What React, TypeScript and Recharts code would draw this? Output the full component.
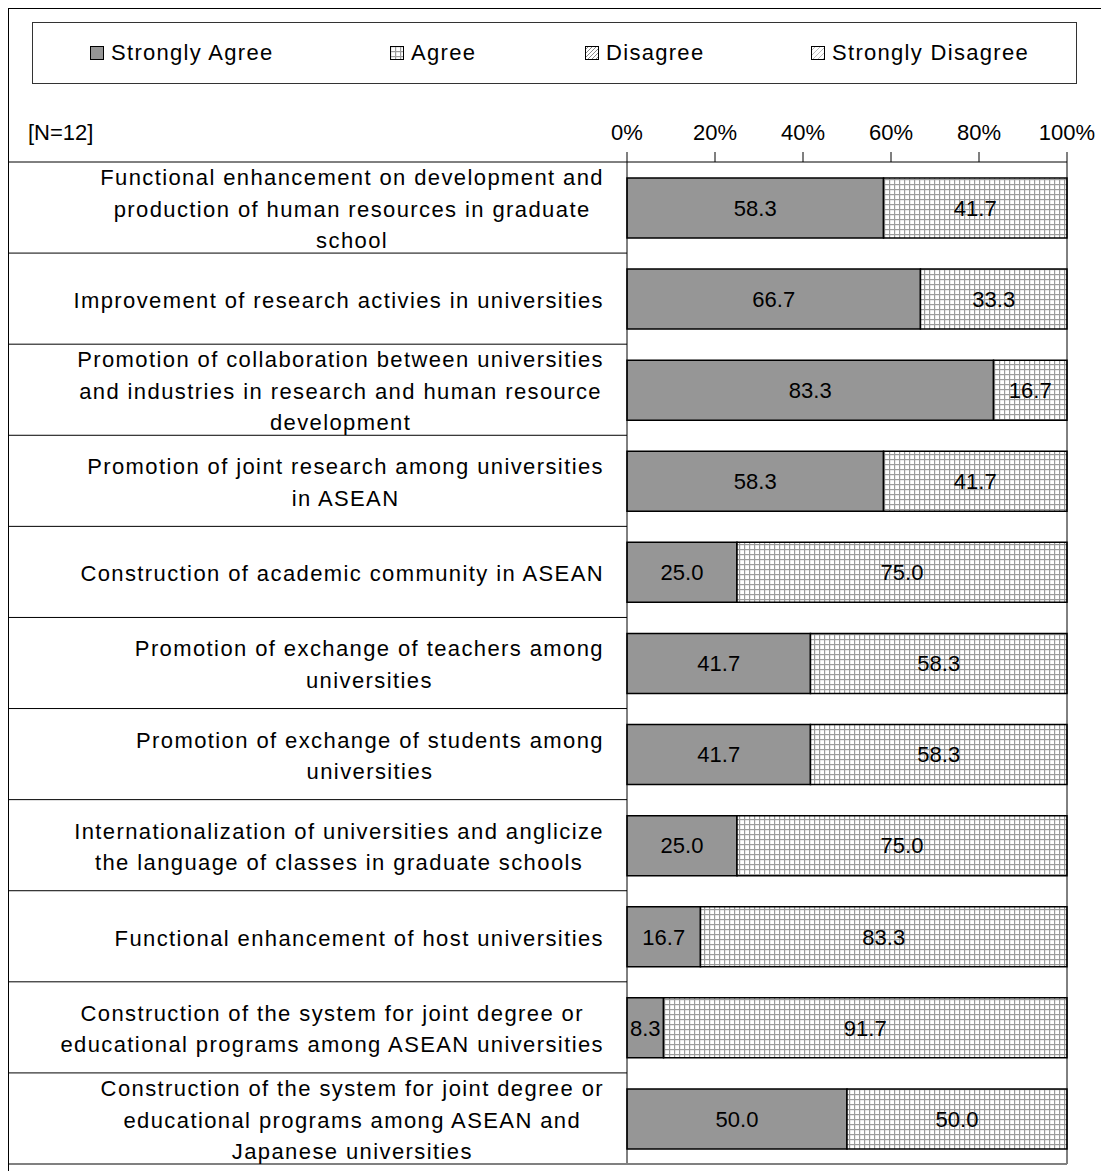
import { BarChart, Bar, XAxis, YAxis, LabelList, ReferenceLine } from "recharts";

const categories = [
  "Functional enhancement on development and\nproduction of human resources in graduate\nschool",
  "Improvement of research activies in universities",
  "Promotion of collaboration between universities\nand industries in research and human resource\ndevelopment",
  "Promotion of joint research among universities\nin ASEAN",
  "Construction of academic community in ASEAN",
  "Promotion of exchange of teachers among\nuniversities",
  "Promotion of exchange of students among\nuniversities",
  "Internationalization of universities and anglicize\nthe language of classes in graduate schools",
  "Functional enhancement of host universities",
  "Construction of the system for joint degree or\neducational programs among ASEAN universities",
  "Construction of the system for joint degree or\neducational programs among ASEAN and\nJapanese universities",
];

const stronglyAgree = [58.3, 66.7, 83.3, 58.3, 25.0, 41.7, 41.7, 25.0, 16.7, 8.3, 50.0];
const agree = [41.7, 33.3, 16.7, 41.7, 75.0, 58.3, 58.3, 75.0, 83.3, 91.7, 50.0];
const disagree = [0, 0, 0, 0, 0, 0, 0, 0, 0, 0, 0];
const stronglyDisagree = [0, 0, 0, 0, 0, 0, 0, 0, 0, 0, 0];

const seriesNames = ["Strongly Agree", "Agree", "Disagree", "Strongly Disagree"];
const percentTicks = [0, 20, 40, 60, 80, 100];
const sampleNote = "[N=12]";

const data = categories.map((name, i) => ({
  name,
  sa: stronglyAgree[i],
  ag: agree[i],
  di: disagree[i],
  sd: stronglyDisagree[i],
}));

const FONT = "'Liberation Sans', Arial, sans-serif";
const CHART_W = 1100;
const CHART_H = 1162;
const PLOT_LEFT = 618;
const PLOT_RIGHT = 1058;
const PLOT_TOP = 153;
const PLOT_BOTTOM = 1155;
const ROW_H = (PLOT_BOTTOM - PLOT_TOP) / categories.length;

const fills = ["#969696", "url(#pat-agree)", "url(#pat-dis)", "url(#pat-sdis)"];

function RowLabel(props: any) {
  const { y, payload, index } = props;
  const top = y - ROW_H / 2;
  return (
    <g>
      <line x1={0} x2={PLOT_LEFT} y1={top} y2={top} stroke="#000" />
      {index === categories.length - 1 && (
        <line x1={0} x2={PLOT_RIGHT} y1={top + ROW_H} y2={top + ROW_H} stroke="#808080" strokeWidth={2} />
      )}
      <foreignObject x={0} y={top} width={PLOT_LEFT} height={ROW_H} style={{ overflow: "visible" }}>
        <div
          style={{
            width: "100%",
            height: "100%",
            display: "flex",
            justifyContent: "flex-end",
            alignItems: "center",
            paddingRight: 23,
            paddingTop: 4,
            boxSizing: "border-box",
          }}
        >
          <div
            style={{
              textAlign: "center",
              whiteSpace: "pre-line",
              fontFamily: FONT,
              fontSize: 22,
              lineHeight: "31.5px",
              letterSpacing: 1.4,
              color: "#000",
            }}
          >
            {payload.value}
          </div>
        </div>
      </foreignObject>
    </g>
  );
}

function LegendIcon({ i }: { i: number }) {
  return (
    <svg width={14} height={14} style={{ marginRight: 7 }}>
      <rect x={0.5} y={0.5} width={13} height={13} fill={fills[i]} stroke="#000" />
    </svg>
  );
}

const legendLeft = [57, 357, 552, 778];

export default function App() {
  return (
    <div
      style={{
        position: "relative",
        width: 1101,
        height: 1163,
        borderTop: "1px solid #000",
        borderLeft: "1px solid #000",
        boxSizing: "border-box",
        fontFamily: FONT,
      }}
    >
      <svg width={0} height={0} style={{ position: "absolute" }}>
        <defs>
          <pattern id="pat-agree" width={5} height={5} patternUnits="userSpaceOnUse">
            <rect width={5} height={5} fill="#fff" />
            <rect width={5} height={1.2} fill="#9c9c9c" />
            <rect width={1.2} height={5} fill="#9c9c9c" />
          </pattern>
          <pattern id="pat-dis" width={4} height={4} patternUnits="userSpaceOnUse">
            <rect width={4} height={4} fill="#fff" />
            <path d="M0,4 L4,0 M-1,1 L1,-1 M3,5 L5,3" stroke="#888" strokeWidth={1} />
          </pattern>
          <pattern id="pat-sdis" width={5} height={5} patternUnits="userSpaceOnUse">
            <rect width={5} height={5} fill="#fff" />
            <path d="M0,5 L5,0 M-1,1 L1,-1 M4,6 L6,4" stroke="#bbb" strokeWidth={1} />
          </pattern>
        </defs>
      </svg>

      <div
        style={{
          position: "absolute",
          left: 23,
          top: 13,
          width: 1045,
          height: 62,
          border: "1px solid #333",
          boxSizing: "border-box",
        }}
      >
        {seriesNames.map((s, i) => (
          <div
            key={s}
            style={{
              position: "absolute",
              left: legendLeft[i],
              top: 0,
              height: 60,
              display: "flex",
              alignItems: "center",
              fontSize: 22,
              letterSpacing: 1.3,
            }}
          >
            <LegendIcon i={i} />
            {s}
          </div>
        ))}
      </div>

      <div style={{ position: "absolute", left: 19, top: 112, fontSize: 22, lineHeight: "24px" }}>{sampleNote}</div>

      <BarChart
        width={CHART_W}
        height={CHART_H}
        data={data}
        layout="vertical"
        margin={{ top: PLOT_TOP - 30, right: CHART_W - PLOT_RIGHT, bottom: CHART_H - PLOT_BOTTOM, left: 0 }}
      >
        <XAxis
          type="number"
          orientation="top"
          domain={[0, 100]}
          ticks={percentTicks}
          tickFormatter={(v) => `${v}%`}
          height={30}
          tickSize={10}
          tickMargin={12}
          axisLine={{ stroke: "#000" }}
          tickLine={{ stroke: "#000" }}
          tick={{ fill: "#000", fontSize: 22, fontFamily: FONT }}
          interval={0}
        />
        <YAxis
          type="category"
          dataKey="name"
          width={PLOT_LEFT}
          tickLine={false}
          axisLine={{ stroke: "#000" }}
          tick={<RowLabel />}
          interval={0}
        />
        <ReferenceLine x={100} stroke="#000" />
        <Bar dataKey="sa" name={seriesNames[0]} stackId="a" barSize={60} fill={fills[0]} stroke="#000" strokeWidth={1.5} isAnimationActive={false}>
          <LabelList dataKey="sa" position="center" formatter={(v: any) => Number(v).toFixed(1)} fill="#000" fontSize={22} fontFamily={FONT} />
        </Bar>
        <Bar dataKey="ag" name={seriesNames[1]} stackId="a" barSize={60} fill={fills[1]} stroke="#000" strokeWidth={1.5} isAnimationActive={false}>
          <LabelList dataKey="ag" position="center" formatter={(v: any) => Number(v).toFixed(1)} fill="#000" fontSize={22} fontFamily={FONT} />
        </Bar>
        <Bar dataKey="di" name={seriesNames[2]} stackId="a" barSize={60} fill={fills[2]} stroke="#000" strokeWidth={1.5} isAnimationActive={false} />
        <Bar dataKey="sd" name={seriesNames[3]} stackId="a" barSize={60} fill={fills[3]} stroke="#000" strokeWidth={1.5} isAnimationActive={false} />
      </BarChart>
    </div>
  );
}
